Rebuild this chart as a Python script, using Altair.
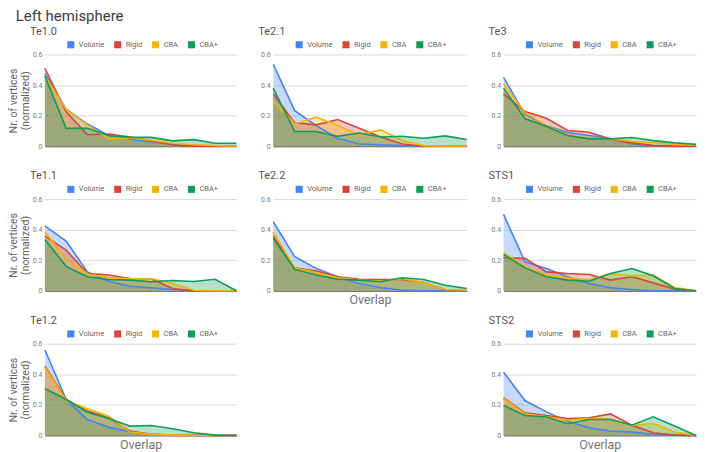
import altair as alt
import pandas as pd

series = ["Volume", "Rigid", "CBA", "CBA+"]
colors = ["#4285F4", "#DB4437", "#F4B400", "#0F9D58"]
steps = list(range(10))

te10_volume = [0.476, 0.243, 0.145, 0.07, 0.048, 0.03, 0.015, 0.005, 0.0, 0.0]
te10_rigid = [0.51, 0.225, 0.075, 0.08, 0.06, 0.035, 0.01, 0.0, 0.0, 0.0]
te10_cba = [0.46, 0.24, 0.14, 0.05, 0.055, 0.04, 0.02, 0.01, 0.005, 0.0]
te10_cbap = [0.46, 0.117, 0.117, 0.07, 0.058, 0.058, 0.035, 0.043, 0.02, 0.02]

te21_volume = [0.535, 0.233, 0.135, 0.052, 0.015, 0.01, 0.005, 0.0, 0.0, 0.0]
te21_rigid = [0.343, 0.153, 0.14, 0.175, 0.118, 0.06, 0.015, 0.0, 0.0, 0.0]
te21_cba = [0.30, 0.146, 0.19, 0.135, 0.075, 0.107, 0.037, 0.004, 0.0, 0.0]
te21_cbap = [0.38, 0.096, 0.096, 0.065, 0.087, 0.06, 0.065, 0.052, 0.068, 0.044]

te3_volume = [0.45, 0.21, 0.135, 0.09, 0.07, 0.05, 0.015, 0.005, 0.0, 0.0]
te3_rigid = [0.343, 0.227, 0.183, 0.103, 0.092, 0.048, 0.022, 0.005, 0.0, 0.0]
te3_cba = [0.41, 0.22, 0.135, 0.075, 0.052, 0.048, 0.033, 0.022, 0.011, 0.009]
te3_cbap = [0.38, 0.18, 0.13, 0.07, 0.048, 0.048, 0.057, 0.037, 0.022, 0.013]

te11_volume = [0.425, 0.325, 0.124, 0.063, 0.03, 0.02, 0.009, 0.0, 0.0, 0.0]
te11_rigid = [0.358, 0.266, 0.113, 0.103, 0.08, 0.079, 0.015, 0.0, 0.0, 0.0]
te11_cba = [0.386, 0.21, 0.11, 0.085, 0.079, 0.08, 0.048, 0.004, 0.0, 0.0]
te11_cbap = [0.336, 0.16, 0.092, 0.074, 0.07, 0.059, 0.068, 0.061, 0.076, 0.0]

te22_volume = [0.452, 0.223, 0.146, 0.092, 0.048, 0.02, 0.004, 0.0, 0.0, 0.0]
te22_rigid = [0.358, 0.15, 0.129, 0.092, 0.076, 0.074, 0.074, 0.055, 0.009, 0.0]
te22_cba = [0.386, 0.15, 0.12, 0.085, 0.07, 0.063, 0.08, 0.052, 0.009, 0.004]
te22_cbap = [0.343, 0.14, 0.103, 0.076, 0.07, 0.059, 0.085, 0.074, 0.037, 0.015]

sts1_volume = [0.50, 0.19, 0.146, 0.092, 0.048, 0.02, 0.009, 0.0, 0.0, 0.0]
sts1_rigid = [0.216, 0.212, 0.124, 0.113, 0.107, 0.07, 0.092, 0.052, 0.011, 0.0]
sts1_cba = [0.25, 0.157, 0.103, 0.085, 0.07, 0.113, 0.098, 0.103, 0.022, 0.0]
sts1_cbap = [0.238, 0.15, 0.092, 0.07, 0.063, 0.113, 0.146, 0.098, 0.015, 0.0]

te12_volume = [0.56, 0.235, 0.104, 0.054, 0.024, 0.007, 0.002, 0.0, 0.0, 0.0]
te12_rigid = [0.452, 0.235, 0.159, 0.115, 0.028, 0.007, 0.0, 0.0, 0.0, 0.0]
te12_cba = [0.446, 0.228, 0.174, 0.126, 0.022, 0.007, 0.002, 0.0, 0.0, 0.0]
te12_cbap = [0.307, 0.235, 0.152, 0.111, 0.061, 0.065, 0.043, 0.017, 0.002, 0.0]

sts2_volume = [0.413, 0.228, 0.154, 0.093, 0.05, 0.028, 0.022, 0.007, 0.002, 0.0]
sts2_rigid = [0.246, 0.148, 0.13, 0.111, 0.115, 0.141, 0.067, 0.017, 0.002, 0.0]
sts2_cba = [0.24, 0.141, 0.122, 0.10, 0.111, 0.104, 0.065, 0.078, 0.022, 0.0]
sts2_cbap = [0.196, 0.13, 0.12, 0.076, 0.104, 0.104, 0.067, 0.122, 0.061, 0.0]

panels = [
    ("Te1.0", [te10_volume, te10_rigid, te10_cba, te10_cbap]),
    ("Te2.1", [te21_volume, te21_rigid, te21_cba, te21_cbap]),
    ("Te3", [te3_volume, te3_rigid, te3_cba, te3_cbap]),
    ("Te1.1", [te11_volume, te11_rigid, te11_cba, te11_cbap]),
    ("Te2.2", [te22_volume, te22_rigid, te22_cba, te22_cbap]),
    ("STS1", [sts1_volume, sts1_rigid, sts1_cba, sts1_cbap]),
    ("Te1.2", [te12_volume, te12_rigid, te12_cba, te12_cbap]),
    None,
    ("STS2", [sts2_volume, sts2_rigid, sts2_cba, sts2_cbap]),
]

y_title = ["Nr. of vertices", "(normalized)"]
x_title = "Overlap"
y_ticks = [0, 0.2, 0.4, 0.6]

WIDTHS = [192, 194, 193]
H = 92


def make_panel(idx, name, vals):
    col = idx % 3
    rows = []
    for s, arr in zip(series, vals):
        for st, v in zip(steps, arr):
            rows.append({"step": st, "value": v, "series": s})
    df = pd.DataFrame(rows)
    show_x_title = name in ("Te2.2", "Te1.2", "STS2")
    x = alt.X(
        "step:Q",
        scale=alt.Scale(domain=[0, 9], nice=False, zero=False),
        axis=alt.Axis(labels=False, ticks=False, grid=False, domain=True,
                      domainColor="#5f5f5f", domainWidth=1,
                      titleFontSize=12.5, titleFontWeight="normal",
                      titleColor="#757575", titlePadding=3),
        title=x_title if show_x_title else None,
    )
    y = alt.Y(
        "value:Q",
        stack=None,
        scale=alt.Scale(domain=[0, 0.6], nice=False),
        axis=alt.Axis(values=y_ticks, format="~g", labelFontSize=7,
                      labelColor="#7a7a7a", ticks=False, domain=False,
                      gridColor="#dadada", labelPadding=3,
                      titleFontSize=10.5, titleFontWeight="normal",
                      titleColor="#616161", titleLineHeight=11.5, titlePadding=2),
        title=y_title if col == 0 else None,
    )
    cscale = alt.Scale(domain=series, range=colors)
    area = alt.Chart(df).mark_area(fillOpacity=0.3, strokeWidth=0).encode(
        x=x, y=y,
        color=alt.Color("series:N", scale=cscale, sort=series,
                        legend=alt.Legend(orient="none", legendX=22, legendY=-14,
                                          direction="horizontal", title=None,
                                          symbolType="square", symbolSize=50,
                                          symbolStrokeWidth=0, symbolOpacity=1,
                                          labelFontSize=7.5, labelColor="#666666",
                                          columnPadding=9, labelOffset=4, padding=0)),
    )
    line = alt.Chart(df).mark_line(strokeWidth=1.6).encode(
        x=x, y=y,
        color=alt.Color("series:N", scale=cscale, sort=series, legend=None),
    )
    return alt.layer(area, line).properties(
        width=WIDTHS[col],
        height=H,
        title=alt.TitleParams(name, anchor="start", frame="group", dx=-15,
                              fontSize=11, fontWeight="normal", color="#555555",
                              offset=4),
    )


cells = []
for i, p in enumerate(panels):
    if p is None:
        blank = alt.Chart(pd.DataFrame({"step": [0], "value": [0]})).mark_point(opacity=0).encode(
            x=alt.X("step:Q", axis=None), y=alt.Y("value:Q", axis=None)
        ).properties(width=WIDTHS[i % 3], height=H)
        cells.append(blank)
    else:
        cells.append(make_panel(i, p[0], p[1]))

chart = alt.concat(
    *cells, columns=3, spacing={"row": 53, "column": 37}, bounds="flush",
    title=alt.TitleParams("Left hemisphere", anchor="start", fontSize=15,
                          fontWeight="normal", color="#3c3c3c", dx=7, offset=2),
).resolve_scale(color="independent").resolve_legend(color="independent").properties(
    padding=0
).configure(font="Roboto").configure_view(stroke=None)

chart.save("out.html", embed_options={"renderer": "svg", "actions": False})
